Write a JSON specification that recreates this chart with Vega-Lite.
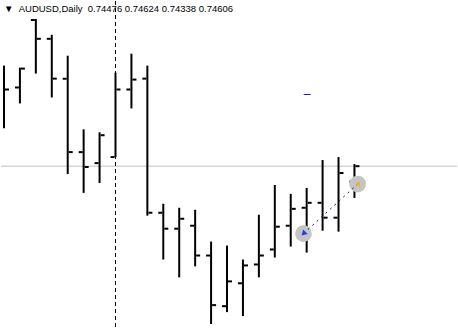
{
  "$schema": "https://vega.github.io/schema/vega-lite/v6.json",
  "width": 458,
  "height": 330,
  "autosize": {"type": "fit", "contains": "padding"},
  "padding": 0,
  "background": "white",
  "view": {"stroke": null},
  "title": {
    "text": "▼\u00a0\u00a0AUDUSD,Daily\u00a0\u00a00.74476 0.74624 0.74338 0.74606",
    "anchor": "start",
    "frame": "group",
    "offset": -13,
    "dx": 3,
    "font": "Liberation Sans, Arial, sans-serif",
    "fontSize": 9.5,
    "fontWeight": "normal",
    "color": "#000000"
  },
  "datasets": {
    "bars": [
      {"i": 1, "o": null, "h": 0.75457, "l": 0.74927, "c": 0.75255},
      {"i": 2, "o": 0.75272, "h": 0.75440, "l": 0.75137, "c": 0.75432},
      {"i": 3, "o": 0.75844, "h": 0.75852, "l": 0.75390, "c": 0.75684},
      {"i": 4, "o": 0.75684, "h": 0.75718, "l": 0.75188, "c": 0.75347},
      {"i": 5, "o": 0.75347, "h": 0.75541, "l": 0.74540, "c": 0.74725},
      {"i": 6, "o": 0.74725, "h": 0.74918, "l": 0.74380, "c": 0.74599},
      {"i": 7, "o": 0.74632, "h": 0.74893, "l": 0.74464, "c": 0.74868},
      {"i": 8, "o": 0.74683, "h": 0.75398, "l": 0.74683, "c": 0.75255},
      {"i": 9, "o": 0.75255, "h": 0.75558, "l": 0.75095, "c": 0.75339},
      {"i": 10, "o": 0.75347, "h": 0.75457, "l": 0.74187, "c": 0.74212},
      {"i": 11, "o": 0.74212, "h": 0.74288, "l": 0.73816, "c": 0.74077},
      {"i": 12, "o": 0.74077, "h": 0.74254, "l": 0.73665, "c": 0.74161},
      {"i": 13, "o": 0.74102, "h": 0.74237, "l": 0.73758, "c": 0.73850},
      {"i": 14, "o": 0.73850, "h": 0.73968, "l": 0.73270, "c": 0.73430},
      {"i": 15, "o": 0.73421, "h": 0.73934, "l": 0.73371, "c": 0.73631},
      {"i": 16, "o": 0.73615, "h": 0.73816, "l": 0.73337, "c": 0.73766},
      {"i": 17, "o": 0.73774, "h": 0.74195, "l": 0.73665, "c": 0.73850},
      {"i": 18, "o": 0.73901, "h": 0.74447, "l": 0.73833, "c": 0.74094},
      {"i": 19, "o": 0.74102, "h": 0.74372, "l": 0.73926, "c": 0.74245},
      {"i": 20, "o": 0.74254, "h": 0.74422, "l": 0.73875, "c": 0.74296},
      {"i": 21, "o": 0.74296, "h": 0.74658, "l": 0.74060, "c": 0.74170},
      {"i": 22, "o": 0.74170, "h": 0.74683, "l": 0.74052, "c": 0.74548},
      {"i": 23, "o": 0.74476, "h": 0.74624, "l": 0.74338, "c": 0.74606}
    ],
    "trade": [
      {"i": 19.8, "p": 0.74035, "kind": "open"},
      {"i": 23.2, "p": 0.74455, "kind": "close"}
    ]
  },
  "resolve": {"scale": {"x": "shared", "y": "shared"}},
  "layer": [
    {
      "data": {"values": [{"p": 0.74606}]},
      "mark": {"type": "rule", "color": "#c0c0c0", "strokeWidth": 1},
      "encoding": {
        "y": {"field": "p", "type": "quantitative", "scale": {"domain": [0.73228, 0.76004], "nice": false, "zero": false}, "axis": null}
      }
    },
    {
      "data": {"name": "bars"},
      "mark": {"type": "rule", "color": "#000000", "strokeWidth": 2},
      "encoding": {
        "x": {"field": "i", "type": "quantitative", "scale": {"domain": [0.8125, 29.4375], "nice": false, "zero": false}, "axis": null},
        "y": {"field": "h", "type": "quantitative", "scale": {"domain": [0.73228, 0.76004], "nice": false, "zero": false}, "axis": null},
        "y2": {"field": "l"}
      }
    },
    {
      "data": {"name": "bars"},
      "mark": {"type": "tick", "orient": "horizontal", "color": "#000000", "size": 4, "thickness": 2, "xOffset": -3, "opacity": 1},
      "encoding": {
        "x": {"field": "i", "type": "quantitative", "axis": null},
        "y": {"field": "o", "type": "quantitative", "axis": null}
      }
    },
    {
      "data": {"name": "bars"},
      "mark": {"type": "tick", "orient": "horizontal", "color": "#000000", "size": 4, "thickness": 2, "xOffset": 3, "opacity": 1},
      "encoding": {
        "x": {"field": "i", "type": "quantitative", "axis": null},
        "y": {"field": "c", "type": "quantitative", "axis": null}
      }
    },
    {
      "data": {"values": [{"i": 8}]},
      "mark": {"type": "rule", "color": "#000000", "strokeWidth": 1, "strokeDash": [4, 3]},
      "encoding": {
        "x": {"field": "i", "type": "quantitative", "axis": null}
      }
    },
    {
      "data": {"values": [{"i": 20.03, "p": 0.75213}]},
      "mark": {"type": "tick", "orient": "horizontal", "color": "#1a1a9c", "size": 7, "thickness": 1, "opacity": 1},
      "encoding": {
        "x": {"field": "i", "type": "quantitative", "axis": null},
        "y": {"field": "p", "type": "quantitative", "axis": null}
      }
    },
    {
      "data": {"name": "trade"},
      "mark": {"type": "circle", "color": "#c4c4c4", "size": 280, "opacity": 1},
      "encoding": {
        "x": {"field": "i", "type": "quantitative", "axis": null},
        "y": {"field": "p", "type": "quantitative", "axis": null}
      }
    },
    {
      "data": {"name": "trade"},
      "mark": {"type": "line", "color": "#1a1a7c", "strokeWidth": 1, "strokeDash": [2, 4]},
      "encoding": {
        "x": {"field": "i", "type": "quantitative", "axis": null},
        "y": {"field": "p", "type": "quantitative", "axis": null}
      }
    },
    {
      "data": {"name": "trade"},
      "transform": [{"filter": "datum.kind === 'open'"}],
      "mark": {"type": "point", "shape": "triangle-down", "filled": true, "color": "#1e3cff", "size": 40, "angle": 45, "opacity": 1},
      "encoding": {
        "x": {"field": "i", "type": "quantitative", "axis": null},
        "y": {"field": "p", "type": "quantitative", "axis": null}
      }
    },
    {
      "data": {"name": "trade"},
      "transform": [{"filter": "datum.kind === 'close'"}],
      "mark": {"type": "point", "shape": "triangle-left", "filled": true, "color": "#f0b030", "size": 30, "opacity": 1},
      "encoding": {
        "x": {"field": "i", "type": "quantitative", "axis": null},
        "y": {"field": "p", "type": "quantitative", "axis": null}
      }
    }
  ]
}
